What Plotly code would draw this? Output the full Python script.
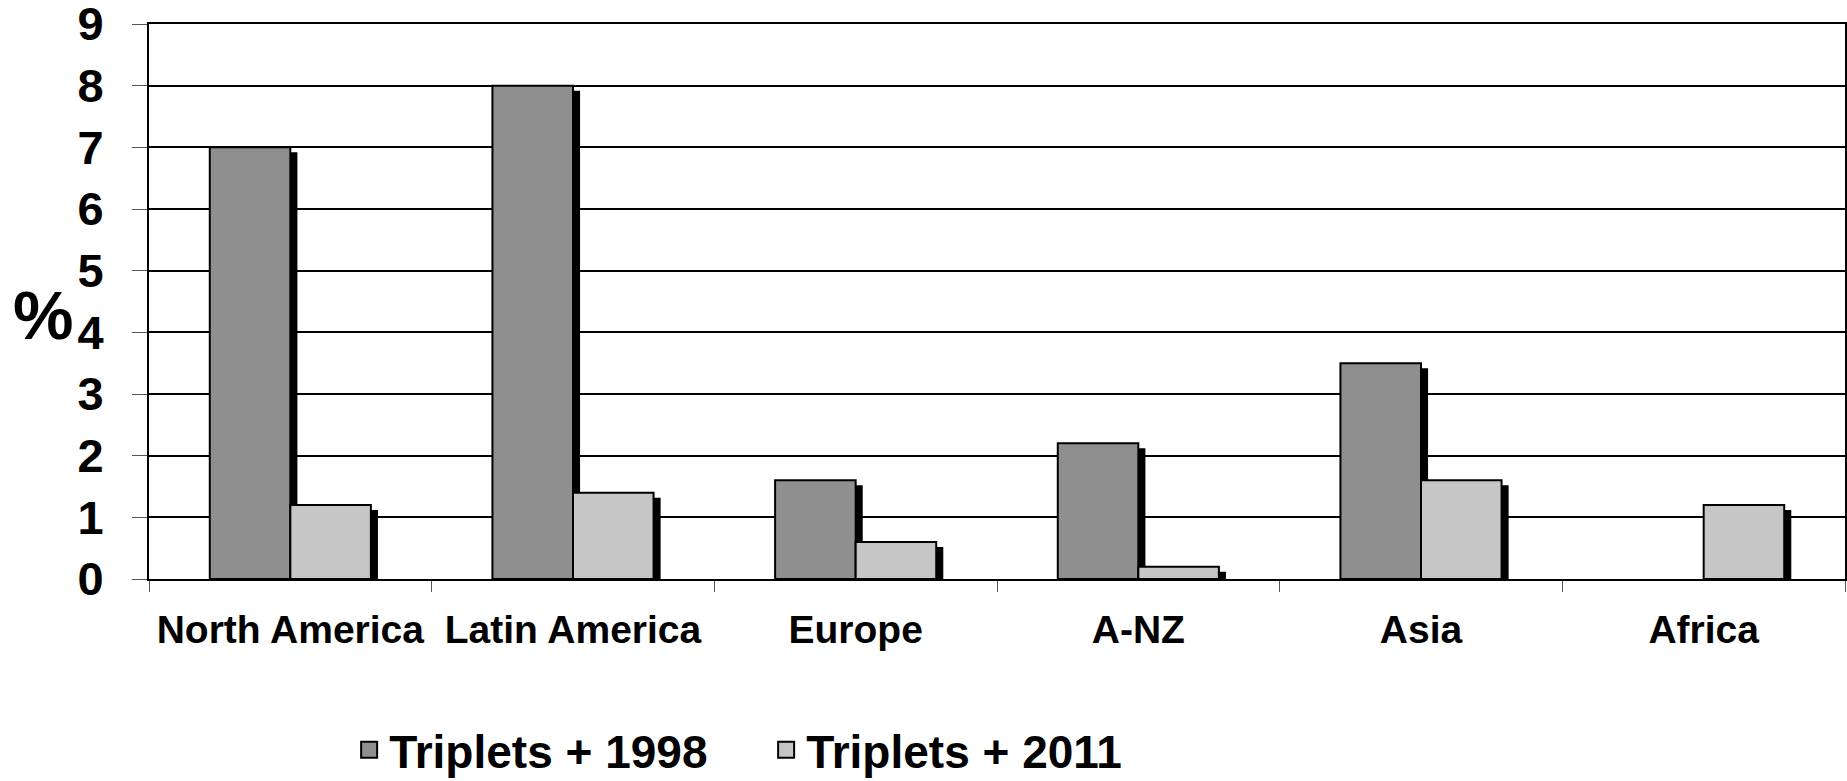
import plotly.graph_objects as go

categories = ["North America", "Latin America", "Europe", "A-NZ", "Asia", "Africa"]
triplets_1998 = [7.0, 8.0, 1.6, 2.2, 3.5, None]
triplets_2011 = [1.2, 1.4, 0.6, 0.2, 1.6, 1.2]
y_ticks = [0, 1, 2, 3, 4, 5, 6, 7, 8, 9]
series_names = ["Triplets + 1998", "Triplets + 2011"]
series_colors = ["#8f8f8f", "#c6c6c6"]

FONT = "Arial, Liberation Sans, sans-serif"
BAR_W = 0.285
SH_DX = 0.025   # shadow shift to the right (category units)
SH_DY = 0.081   # shadow drop (value units)

def shadow(vals):
    return [None if v is None else max(v - SH_DY, 0) for v in vals]

fig = go.Figure()
# shadows
fig.add_trace(go.Bar(x=categories, y=shadow(triplets_1998), width=BAR_W, offset=-BAR_W + SH_DX,
                     marker=dict(color="black", line=dict(width=0)), showlegend=False, hoverinfo="skip"))
fig.add_trace(go.Bar(x=categories, y=shadow(triplets_2011), width=BAR_W, offset=SH_DX,
                     marker=dict(color="black", line=dict(width=0)), showlegend=False, hoverinfo="skip"))
# bars
fig.add_trace(go.Bar(x=categories, y=triplets_1998, width=BAR_W, offset=-BAR_W, name=series_names[0],
                     marker=dict(color=series_colors[0], line=dict(color="black", width=2)), showlegend=False))
fig.add_trace(go.Bar(x=categories, y=triplets_2011, width=BAR_W, offset=0, name=series_names[1],
                     marker=dict(color=series_colors[1], line=dict(color="black", width=2)), showlegend=False))
# legend entries (larger square symbols)
for nm, col in zip(series_names, series_colors):
    fig.add_trace(go.Scatter(x=[None], y=[None], mode="markers", name=nm,
                             marker=dict(symbol="square", size=26, color=col, line=dict(color="black", width=2))))

fig.update_layout(
    width=1847, height=781,
    margin=dict(l=149, r=2, t=24, b=202, autoexpand=False),
    barmode="overlay",
    plot_bgcolor="white", paper_bgcolor="white",
    font=dict(family=FONT, color="black"),
    legend=dict(orientation="h", x=0.118, xanchor="left", y=-0.308, yanchor="middle",
                font=dict(size=46, family=FONT, color="black", weight="bold"),
                itemwidth=30, traceorder="normal", entrywidth=372, itemsizing="trace"),
    annotations=[dict(text="<b>%</b>", x=-0.0625, y=0.476, xref="paper", yref="paper",
                      xanchor="center", yanchor="middle", showarrow=False,
                      font=dict(size=68, family=FONT, color="black"))],
)
fig.update_xaxes(
    type="category", tickson="boundaries", ticks="outside", ticklen=11, tickwidth=1, tickcolor="#555",
    showline=True, linecolor="black", linewidth=2, showgrid=False, mirror=True, automargin=False,
    tickfont=dict(size=39, family=FONT, color="black", weight="bold"), ticklabelstandoff=15,
)
fig.update_yaxes(
    range=[0, 9], tickvals=y_ticks, ticks="outside", ticklen=15, tickwidth=1, tickcolor="#555",
    showline=True, linecolor="black", linewidth=2, mirror=True, automargin=False,
    ticklabeloverflow="allow",
    showgrid=True, gridcolor="black", gridwidth=2, zeroline=False,
    tickfont=dict(size=47, family=FONT, color="black", weight="bold"), ticklabelstandoff=19,
)

fig.write_html("out.html", config={"displayModeBar": False},
               post_script="document.body.style.margin='0px';document.body.style.overflow='hidden';")
